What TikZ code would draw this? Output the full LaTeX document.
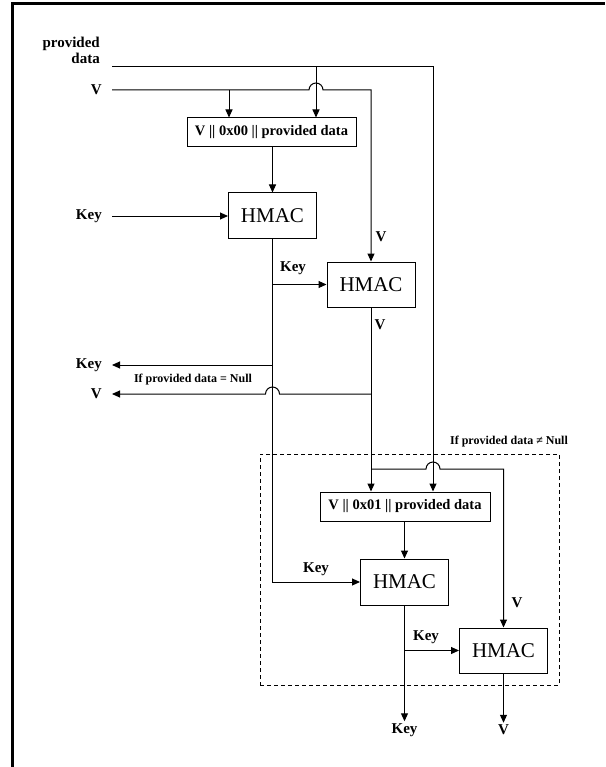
\documentclass[tikz,border=0pt]{standalone}
\usepackage{fontspec}
\setmainfont{Liberation Serif}
\usetikzlibrary{arrows.meta, positioning, calc}

\begin{document}
\begin{tikzpicture}[
    x=1pt, y=-1pt,
    box/.style={rectangle, draw, line width=1pt, inner sep=0pt, font=\bfseries\fontsize{14.5}{16}\selectfont},
    hmac/.style={rectangle, draw, line width=1pt, minimum width=88pt, minimum height=45pt, inner sep=0pt, font=\fontsize{21}{22}\selectfont},
    lbl/.style={font=\bfseries\fontsize{15}{16}\selectfont, inner sep=2pt},
    cond/.style={font=\bfseries\fontsize{12}{13}\selectfont, inner sep=0pt},
    wire/.style={line width=1pt},
    arrow/.style={wire, -{Triangle[length=8pt, width=7pt]}}
]
\useasboundingbox (0,0) rectangle (605,767);

% Frame
\draw[line width=3pt] (12,767) -- (12,4) -- (605,4);

% Inputs
\node[lbl, align=right, anchor=east, font=\bfseries\fontsize{15}{16}\selectfont] (pdlbl) at (102,50) {provided\\data};
\node[lbl, anchor=east] (vlbl) at (104,90) {V};
\node[lbl, anchor=east] (keylbl) at (104,216) {Key};
\coordinate (pdin) at (112,67);
\coordinate (vin) at (112,90);
\coordinate (keyin) at (112,216);

% Boxes
\node[box, minimum width=169pt, minimum height=29pt] (cat0) at (271.5,132.5) {V \textbar\textbar{} 0x00 \textbar\textbar{} provided data};
\node[hmac] (hmac1) at (272.5,215.5) {HMAC};
\node[hmac] (hmac2) at (371,284.5) {HMAC};
\node[box, minimum width=170pt, minimum height=29pt] (cat1) at (405,506.5) {V \textbar\textbar{} 0x01 \textbar\textbar{} provided data};
\node[hmac, minimum height=46pt] (hmac3) at (404.5,582) {HMAC};
\node[hmac] (hmac4) at (503.5,650.5) {HMAC};

% Second round
\node[draw, dashed, wire, dash pattern=on 4pt off 3pt, minimum width=299pt, minimum height=231pt] (nullbox) at (409.5,569.5) {};
\node[cond] (notnull) at (509,442) {If provided data ≠ Null};

% Columns
\coordinate (pdx) at (433,0);
\coordinate (cat0v) at (229,0);
\coordinate (cat0pd) at (316,0);
\coordinate (keyout) at (112,365);
\coordinate (vout) at (112,394);
\coordinate (vsplit) at (hmac2.south |- 0,469);

% Outputs
\node[lbl, anchor=east] (keyoutlbl) at (104,365) {Key};
\node[lbl, anchor=east] (voutlbl) at (104,394) {V};
\node[cond] (isnull) at (193,380) {If provided data = Null};
\node[lbl] (keyfin) at (404.5,730) {Key};
\node[lbl] (vfin) at (503.5,730) {V};

% Arrows into first concatenation
\draw[arrow] (pdin) -| (cat1.north -| pdx);
\draw[arrow] (pdin -| cat0pd) -- (cat0.north -| cat0pd);
\draw[arrow] (vin) -- ([xshift=-7pt]vin -| cat0pd) arc[start angle=180, end angle=0, radius=7pt] -| (hmac2.north);
\draw[arrow] (vin -| cat0v) -- (cat0.north -| cat0v);
\draw[arrow] (cat0.south -| hmac1.north) -- (hmac1.north);
\draw[arrow] (keyin) -- (keyin -| hmac1.west);

% Key path
\draw[arrow] (hmac1.south) |- (hmac3.west);
\draw[arrow] (hmac1.south |- hmac2.west) -- (hmac2.west);
\draw[arrow] (hmac1.south |- keyout) -- (keyout);
\node[lbl] (keylbl1) at (293,268) {Key};

% V path
\draw[arrow] (hmac2.south) -- (cat1.north -| hmac2.south);
\draw[arrow] (hmac2.south |- vout) -- ([xshift=7pt]vout -| hmac1.south) arc[start angle=0, end angle=180, radius=7pt] -- (vout);
\draw[arrow] (vsplit) -- ([xshift=-7pt]vsplit -| pdx) arc[start angle=180, end angle=0, radius=7pt] -| (hmac4.north);
\node[lbl] (vlbl1) at (381,237) {V};
\node[lbl] (vlbl2) at (380,325) {V};

% Second round arrows
\draw[arrow] (cat1.south -| hmac3.north) -- (hmac3.north);
\draw[arrow] (hmac3.south) -- (keyfin.north);
\draw[arrow] (hmac3.south |- hmac4.west) -- (hmac4.west);
\draw[arrow] (hmac4.south) -- (vfin.north);
\node[lbl] (keylbl2) at (316,569) {Key};
\node[lbl] (keylbl3) at (426,637) {Key};
\node[lbl] (vlbl3) at (517,603) {V};

\end{tikzpicture}
\end{document}
